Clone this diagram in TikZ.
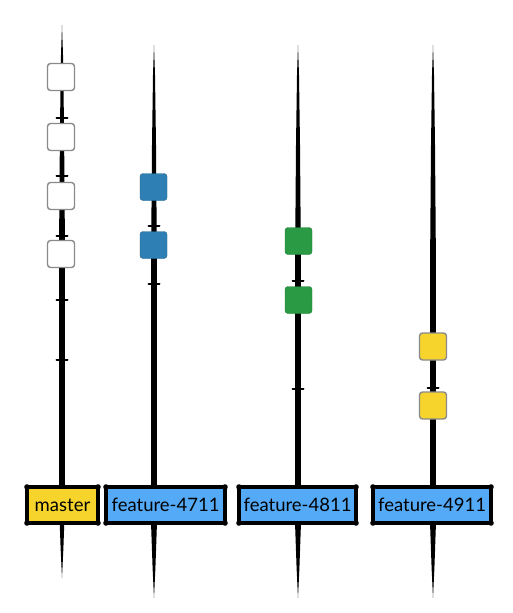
\documentclass[tikz,border=0pt]{standalone}
\usepackage{fontspec}
\setmainfont{Lato}
\begin{document}
\begin{tikzpicture}[x=1pt,y=-1pt,
  branchfill/.style={fill=black},
  tickmark/.style={draw=black,line width=2pt,line cap=round},
  commit/.style={rectangle,rounded corners=3pt,minimum size=27pt,inner sep=0pt,line width=1.4pt},
  plaincommit/.style={commit,draw=graybdr,fill=white},
  bluecommit/.style={commit,fill=commitblue,draw=commitblue!80!black,line width=0.4pt},
  greencommit/.style={commit,fill=commitgreen,draw=commitgreen!80!black,line width=0.4pt},
  yellowcommit/.style={commit,draw=graybdr,fill=commityellow},
  branchlabel/.style={rectangle,draw=black,line width=3.8pt,rounded corners=2pt,outer sep=0pt,
     inner sep=0pt,minimum height=36pt,font=\fontsize{18.5}{22}\selectfont,text=black},
  masterlabel/.style={branchlabel,fill=labelyellow},
  featurelabel/.style={branchlabel,fill=labelblue},
]
\definecolor{graybdr}{HTML}{8A8A8A}
\definecolor{commitblue}{HTML}{2E7FB3}
\definecolor{commitgreen}{HTML}{2B9A45}
\definecolor{commityellow}{HTML}{F6D42C}
\definecolor{labelyellow}{HTML}{F6D42C}
\definecolor{labelblue}{HTML}{55AAF7}
\useasboundingbox (0,0) rectangle (513,613);
\fill[white] (0,0) rectangle (513,613);

% branch lines (tapered strokes)
\foreach \x/\t/\b in {62/25/578, 154/45/598, 298/45/598, 433/45/598}{
  \fill[branchfill] (\x,\t) -- (\x-1,\t+30) -- (\x-2,\t+100) -- (\x-2.8,\t+200)
     -- (\x-2.8,\b-70) -- (\x-1.4,\b-30) -- (\x,\b) -- (\x+1.4,\b-30) -- (\x+2.8,\b-70)
     -- (\x+2.8,\t+200) -- (\x+2,\t+100) -- (\x+1,\t+30) -- cycle;
}

% tick marks
\foreach \x/\y in {62/118, 62/176, 62/236, 62/300, 62/360,
                   154/226, 154/284,
                   298/281, 298/389,
                   433/388}{
  \draw[tickmark] (\x-5.5,\y) -- (\x+5.5,\y);
}

% commits
\node[plaincommit] (m1) at (61,77) {};
\node[plaincommit] (m2) at (61,137) {};
\node[plaincommit] (m3) at (61,196) {};
\node[plaincommit] (m4) at (61,254) {};
\node[bluecommit] (a1) at (153.5,187) {};
\node[bluecommit] (a2) at (153.5,245) {};
\node[greencommit] (b1) at (298.5,241) {};
\node[greencommit] (b2) at (298.5,300) {};
\node[yellowcommit] (c1) at (433,346.5) {};
\node[yellowcommit] (c2) at (433,405.5) {};

% branch labels
\node[masterlabel,minimum width=71pt] (lm) at (62.5,505) {master};
\node[featurelabel,minimum width=119pt] (l1) at (165.5,505) {feature-4711};
\node[featurelabel,minimum width=117pt] (l2) at (297.5,505) {feature-4811};
\node[featurelabel,minimum width=118pt] (l3) at (432,505) {feature-4911};
\foreach \n in {lm,l1,l2,l3}{
  \foreach \a in {north west,north east,south west,south east}{
    \fill (\n.\a) circle (2.8pt);
  }
}
\end{tikzpicture}
\end{document}
